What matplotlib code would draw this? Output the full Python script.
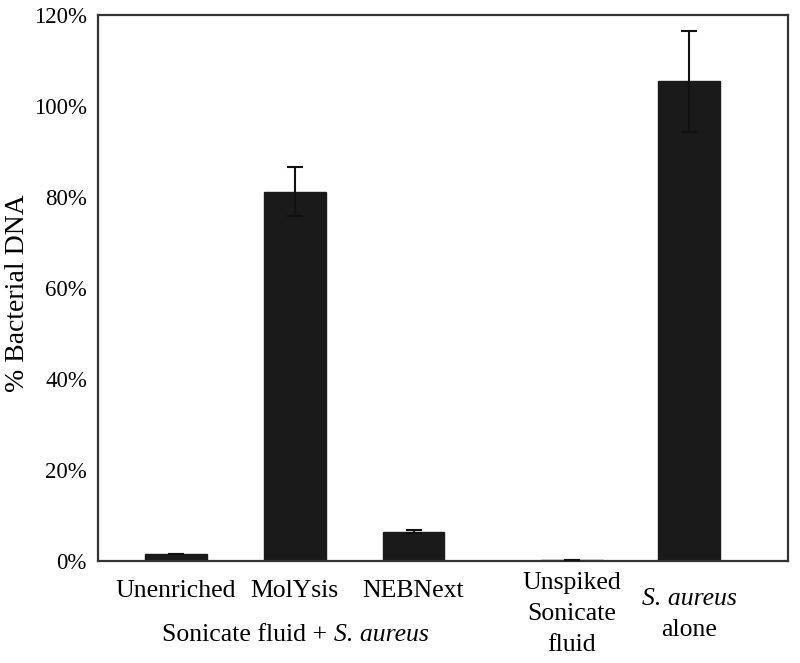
import matplotlib
matplotlib.use("Agg")
import matplotlib.pyplot as plt
import matplotlib.transforms as mtransforms
from matplotlib.ticker import FuncFormatter

plt.rcParams['font.family'] = ['Liberation Serif', 'DejaVu Serif']

# data
categories = ["Unenriched", "MolYsis", "NEBNext", "Unspiked\nSonicate\nfluid", "S. aureus alone"]
positions = [0, 1, 2, 3.33, 4.32]
values = [1.5, 81.2, 6.4, 0.25, 105.4]
errors = [0.0, 5.3, 0.35, 0.0, 11.1]
yticks = [0, 20, 40, 60, 80, 100, 120]

W, H = 800, 663
fig = plt.figure(figsize=(W / 100, H / 100), dpi=100)
ax = fig.add_axes([98 / W, (H - 561) / H, 690 / W, 546 / H])

ax.bar(positions, values, width=0.52, color='#1a1a1a', edgecolor='#1a1a1a', zorder=2)
ax.errorbar(positions, values, yerr=errors, fmt='none', ecolor='#111111',
            elinewidth=1.5, capsize=5.5, capthick=1.5, zorder=3)

ax.set_xlim(-0.655, 5.15)
ax.set_ylim(0, 120)
ax.set_yticks(yticks)
ax.yaxis.set_major_formatter(FuncFormatter(lambda v, p: f"{int(v)}%"))
ax.tick_params(axis='y', length=0, labelsize=16.5, pad=8)
ax.set_xticks([])
for s in ax.spines.values():
    s.set_linewidth(1.6)
    s.set_color('#333333')

def fy(px):
    return 1 - px / H

fig.text(18 / W, fy(293), "% Bacterial DNA", rotation=90, ha='center', va='center', fontsize=20)

tr = mtransforms.blended_transform_factory(ax.transData, fig.transFigure)

fs = 18.5
for i in range(3):
    ax.text(positions[i], fy(591), categories[i], transform=tr, ha='center', va='center', fontsize=fs)
for j, line in enumerate(categories[3].split("\n")):
    ax.text(positions[3], fy(583 + 31 * j), line, transform=tr, ha='center', va='center', fontsize=fs)
ax.text(positions[4], fy(599), "S. aureus", transform=tr, ha='center', va='center', fontsize=fs, style='italic')
ax.text(positions[4], fy(630), "alone", transform=tr, ha='center', va='center', fontsize=fs)

t1 = fig.text(162 / W, fy(635), "Sonicate fluid + ", ha='left', va='center', fontsize=fs)
ax.annotate("S. aureus", xy=(1, 0), xycoords=t1, ha='left', va='bottom',
            fontsize=fs, style='italic', annotation_clip=False)

fig.savefig("out.png", dpi=100)
